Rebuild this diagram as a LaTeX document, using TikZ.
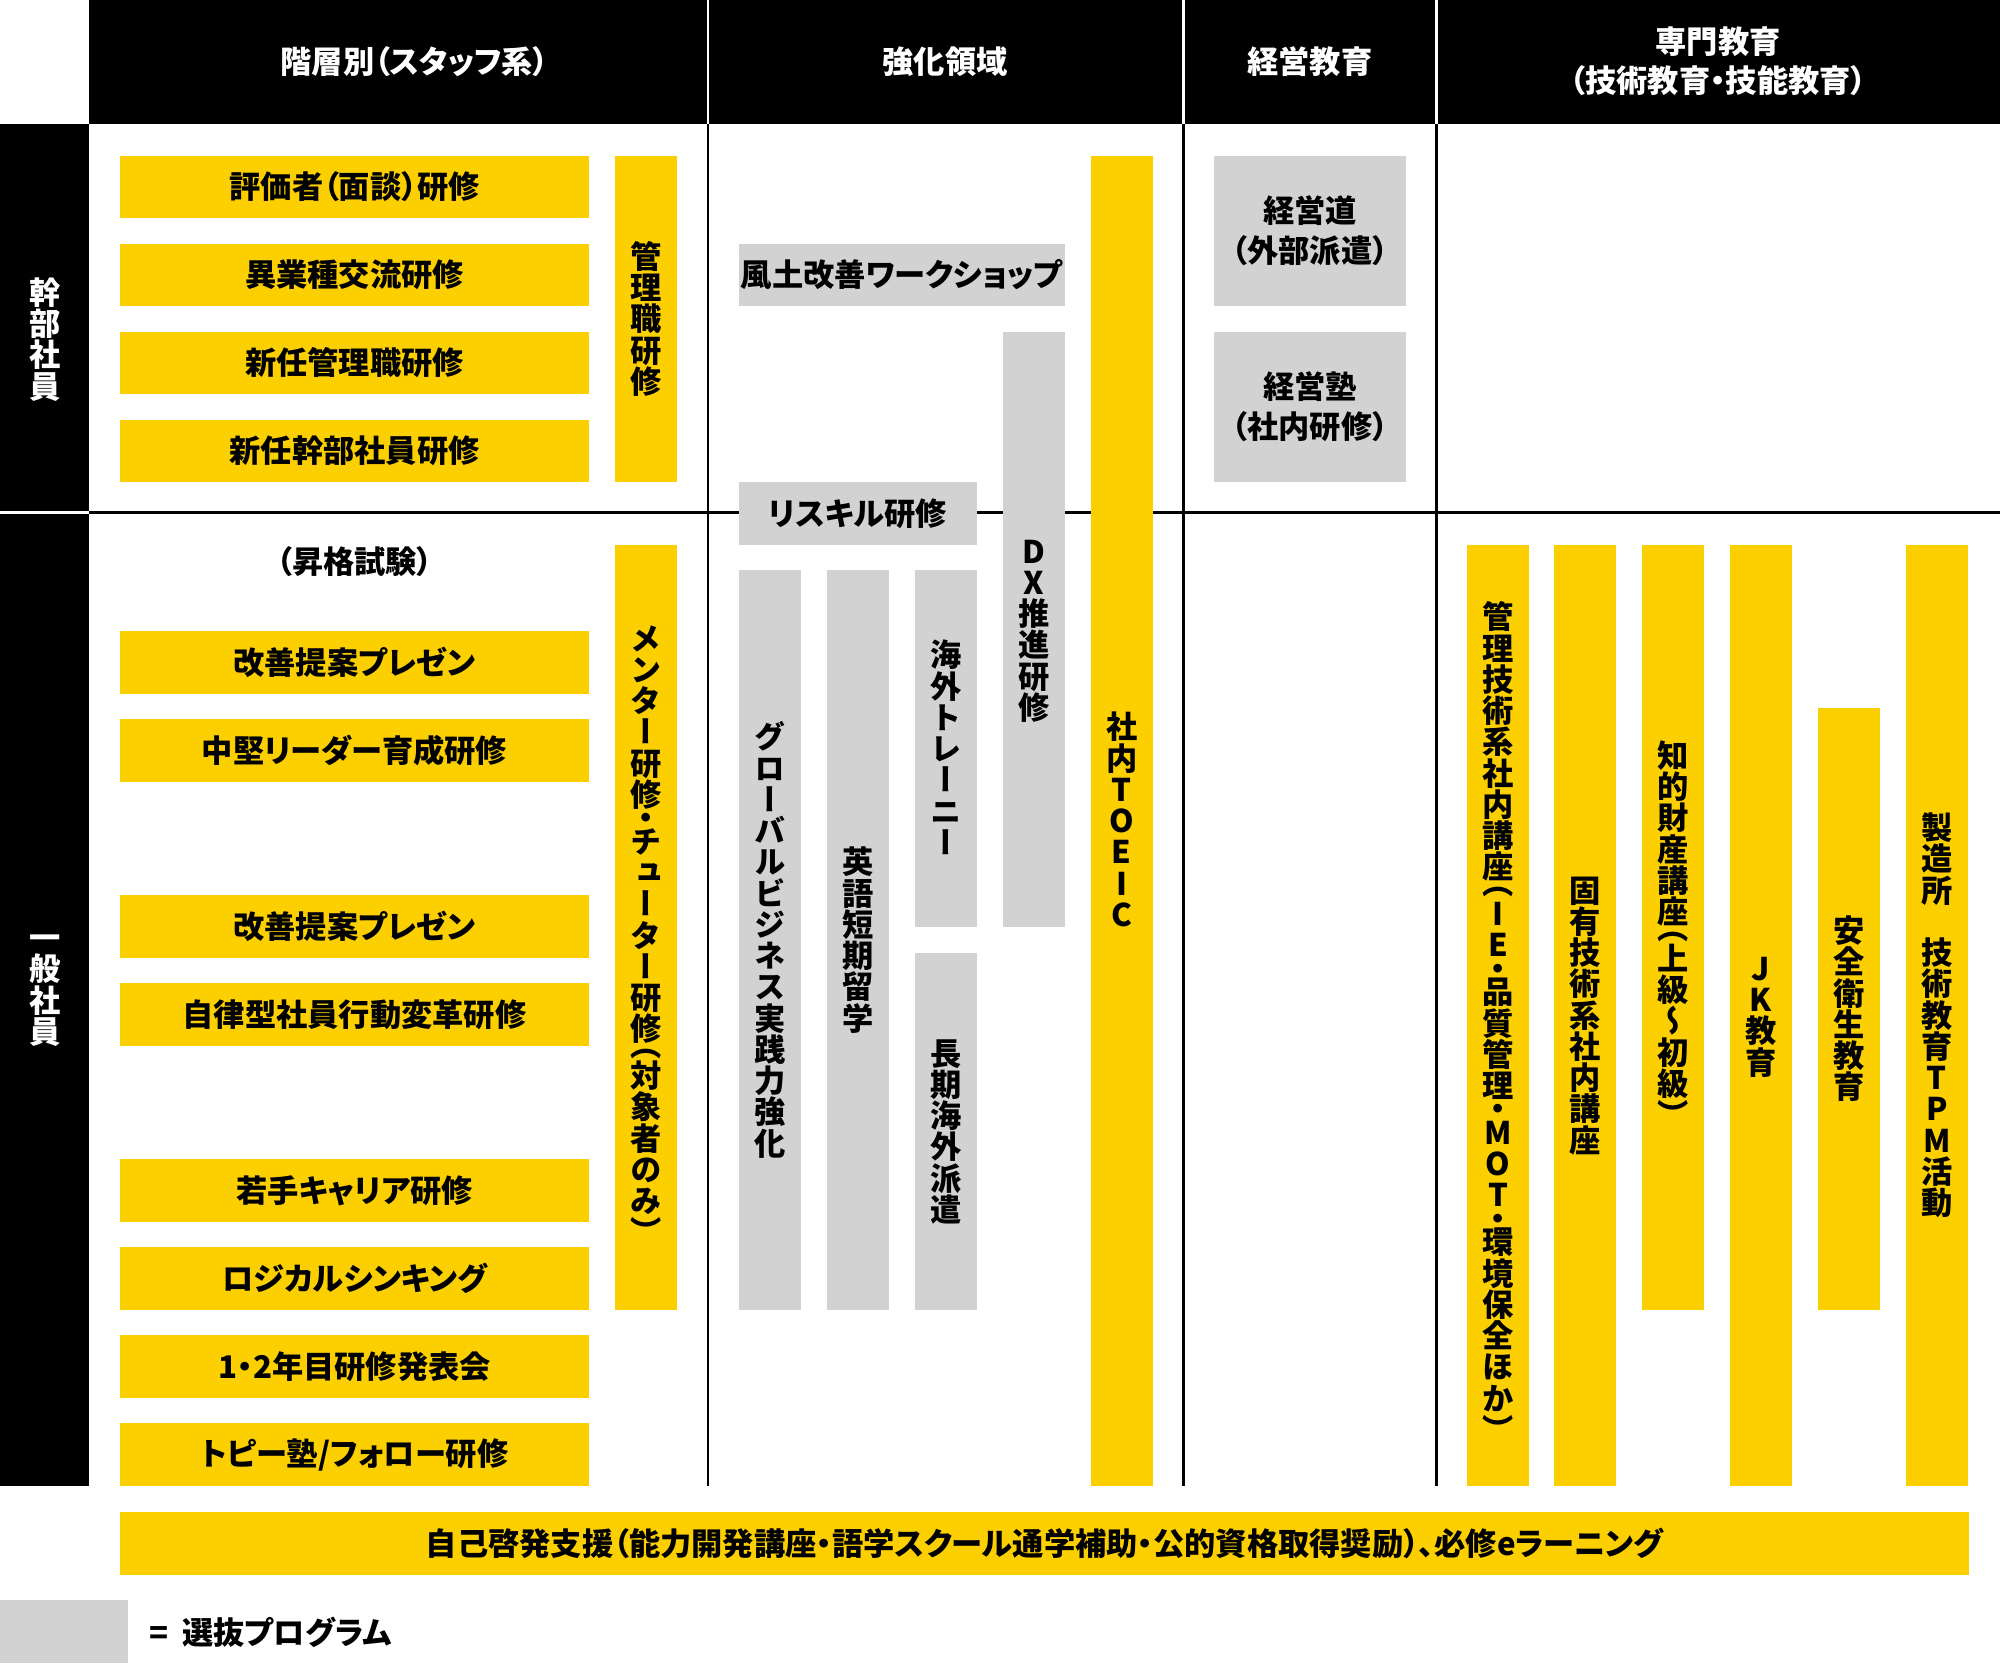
\documentclass[tikz,border=0pt]{standalone}
\usepackage{fontspec}
\setmainfont{Noto Sans CJK JP}[RawFeature=+palt]
\newfontfamily\tatefont{Noto Sans CJK JP}[RawFeature=+vert]
\usepackage{tikz}
\definecolor{topyellow}{RGB}{252,208,0}
\definecolor{topgray}{RGB}{210,210,210}
\newcommand\boxfont{\fontsize{24.5}{31}\selectfont\bfseries}
\newcommand\tatebox{\tatefont\fontsize{24.5}{24.5}\selectfont\bfseries}
\newcommand\tatecell[3]{\hbox to 1em{\hss\rule{0pt}{#2}\smash{\raisebox{#1}{#3}}\hss}}
\ExplSyntaxOn
\NewDocumentCommand\tate{m}{
  \vbox{\offinterlineskip
    \tl_map_inline:nn {#1}{
      \str_case:nnF {##1}{
        {（}{\tatecell{0.12em}{0.5em}{##1}}
        {）}{\tatecell{-0.38em}{0.5em}{##1}}
        {・}{\tatecell{-0.13em}{0.5em}{##1}}
      }{\tatecell{0.12em}{1em}{##1}}
    }
  }
}
\ExplSyntaxOff
\tikzset{
  every node/.style={inner sep=0pt, outer sep=0pt},
  course/.style={fill=topyellow, anchor=north west, font=\boxfont},
  select/.style={course, fill=topgray},
  wide/.style={minimum width=368pt, minimum height=49pt},
  narrow/.style={minimum width=49pt, font=\tatebox},
  head/.style={text=white, font=\boxfont, align=center},
  rule/.style={line width=2pt},
}
\begin{document}
\begin{tikzpicture}[x=1pt,y=-1pt]
\useasboundingbox (0,0) rectangle (1568,1304);
\fill[white] (0,0) rectangle (1568,1304);
% header and row labels
\fill[black] (70,0) rectangle (1568,97);
\fill[black] (0,97) rectangle (70,1165);
\draw[rule] (70,402) -- (1568,402);
\draw[rule,white] (0,402) -- (70,402);
\foreach \x in {555,928,1126} {
  \draw[rule,white] (\x,0) -- (\x,97);
  \draw[rule] (\x,97) -- (\x,1165);
}
\node[head] (hkaiso) at (325,48) {階層別（スタッフ系）};
\node[head] (hkyoka) at (741,48) {強化領域};
\node[head] (hkeiei) at (1027,48) {経営教育};
\node[head] (hsenmon) at (1347,48) {専門教育\\（技術教育・技能教育）};
\node[text=white, font=\tatebox] (kanbu) at (35,266) {\tate{幹部社員}};
\node[text=white, font=\tatebox] (ippan) at (35,772) {\tate{一般社員}};

% staff
\node[course,wide] (hyoka) at (94,122) {評価者（面談）研修};
\node[course,wide] (igyo) at (94,191) {異業種交流研修};
\node[course,wide] (shinkanri) at (94,260) {新任管理職研修};
\node[course,wide] (shinkanbu) at (94,329) {新任幹部社員研修};
\node[course,narrow,minimum height=256pt] (kanrishoku) at (482,122) {\tate{管理職研修}};
\node[font=\boxfont] (shokaku) at (278,440) {（昇格試験）};
\node[course,wide] (kaizena) at (94,495) {改善提案プレゼン};
\node[course,wide] (chuken) at (94,564) {中堅リーダー育成研修};
\node[course,wide] (kaizenb) at (94,702) {改善提案プレゼン};
\node[course,wide] (jiritsu) at (94,771) {自律型社員行動変革研修};
\node[course,wide] (wakate) at (94,909) {若手キャリア研修};
\node[course,wide] (logical) at (94,978) {ロジカルシンキング};
\node[course,wide] (happyo) at (94,1047) {1・2年目研修発表会};
\node[course,wide] (topy) at (94,1116) {トピー塾/フォロー研修};
\node[course,narrow,minimum height=600pt] (mentor) at (482,427) {\tate{メンター研修・チューター研修（対象者のみ）}};

% kyoka
\node[select,minimum width=256pt,minimum height=49pt] (fudo) at (579,191) {風土改善ワークショップ};
\node[select,minimum width=187pt,minimum height=49pt] (reskill) at (579,378) {リスキル研修};
\node[select,narrow,minimum height=467pt] (dx) at (786,260) {\tate{DX推進研修}};
\node[select,narrow,minimum height=580pt] (global) at (579,447) {\tate{グローバルビジネス実践力強化}};
\node[select,narrow,minimum height=580pt] (eigo) at (648,447) {\tate{英語短期留学}};
\node[select,narrow,minimum height=280pt] (trainee) at (717,447) {\tate{海外トレーニー}};
\node[select,narrow,minimum height=280pt] (haken) at (717,747) {\tate{長期海外派遣}};
\node[course,narrow,minimum height=1043pt] (toeic) at (855,122) {\tate{社内TOEIC}};

% keiei
\node[select,align=center,minimum width=150pt,minimum height=118pt] (keieido) at (952,122) {経営道\\（外部派遣）};
\node[select,align=center,minimum width=150pt,minimum height=118pt] (keieijuku) at (952,260) {経営塾\\（社内研修）};

% senmon
\node[course,narrow,minimum height=738pt] (kanrigijutsu) at (1150,427) {\tate{管理技術系社内講座（IE・品質管理・MOT・環境保全ほか）}};
\node[course,narrow,minimum height=738pt] (koyu) at (1218,427) {\tate{固有技術系社内講座}};
\node[course,narrow,minimum height=600pt] (chizai) at (1287,427) {\tate{知的財産講座（上級〜初級）}};
\node[course,narrow,minimum height=738pt] (jk) at (1356,427) {\tate{JK教育}};
\node[course,narrow,minimum height=472pt] (anzen) at (1425,555) {\tate{安全衛生教育}};
\node[course,narrow,minimum height=738pt] (seizo) at (1494,427) {\tate{製造所　技術教育TPM活動}};

% bottom
\node[course,minimum width=1450pt,minimum height=50pt] (jiko) at (94,1185) {自己啓発支援（能力開発講座・語学スクール通学補助・公的資格取得奨励）、必修eラーニング};
\node[fill=topgray,anchor=north west,minimum width=100pt,minimum height=50pt] (legend) at (0,1254) {};
\node[anchor=west,font=\boxfont] (legendtext) at (117,1280) {=\hspace{0.45em}選抜プログラム};
\end{tikzpicture}
\end{document}
